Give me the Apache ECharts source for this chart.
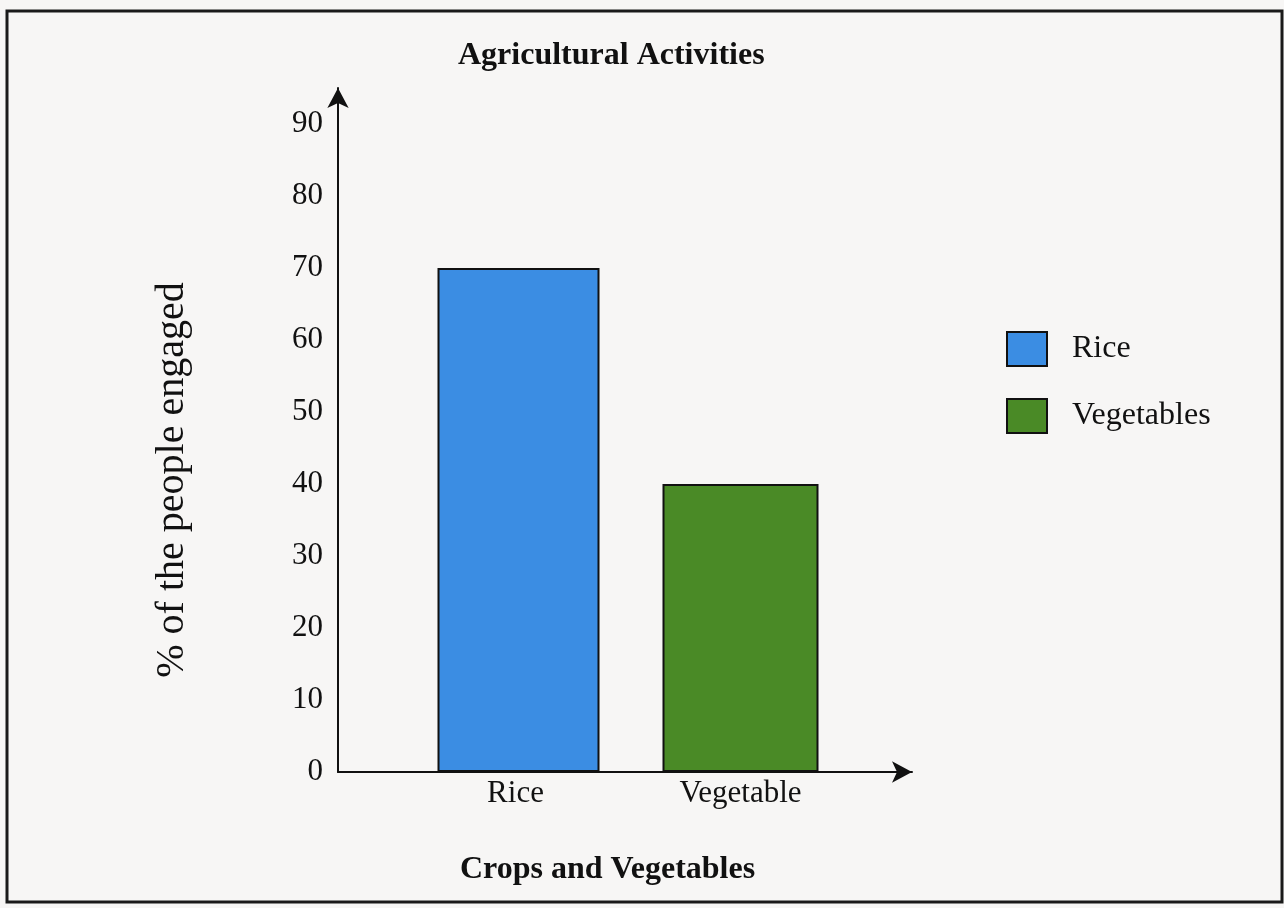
<!DOCTYPE html>
<html>
<head>
<meta charset="utf-8">
<script src="https://cdn.jsdelivr.net/npm/echarts@6/dist/echarts.min.js"></script>
<style>
  html, body { margin: 0; padding: 0; background: #f7f6f5; }
  #chart { width: 1284px; height: 908px; }
</style>
</head>
<body>
<div id="chart"></div>
<script>
// 数据
var categories = ['Rice', 'Vegetable'];
var riceValues = [70, '-'];
var vegetableValues = ['-', 40];
var seriesNames = ['Rice', 'Vegetables'];

var serif = 'Liberation Serif, Times New Roman, serif';

var myChart = echarts.init(document.getElementById('chart'));

var option = {
    backgroundColor: '#f7f6f5',
    title: [
        {
            text: 'Agricultural Activities',
            left: 453, top: 35,
            textStyle: { fontFamily: serif, fontWeight: 'bold', fontSize: 32, color: '#111' }
        },
        {
            text: 'Crops and Vegetables',
            left: 455, top: 849,
            textStyle: { fontFamily: serif, fontWeight: 'bold', fontSize: 32, color: '#111' }
        }
    ],
    legend: {
        orient: 'vertical',
        left: 1001, top: 326,
        itemWidth: 40, itemHeight: 34, itemGap: 31,
        icon: 'rect',
        data: seriesNames,
        textStyle: { fontFamily: serif, fontSize: 32, color: '#111', padding: [0, 0, 0, 20] }
    },
    // grid 0: 坐标轴线（带箭头），grid 1: 柱子
    grid: [
        { left: 338, right: 372, top: 88, bottom: 136 },
        { left: 403, right: 431, top: 88, bottom: 136 }
    ],
    xAxis: [
        {
            gridIndex: 0, type: 'value', min: 0, max: 1,
            axisLine: { show: true, symbol: ['none', 'arrow'], symbolSize: [16, 20], lineStyle: { color: '#111', width: 2 } },
            axisTick: { show: false }, axisLabel: { show: false }, splitLine: { show: false }
        },
        {
            gridIndex: 1, type: 'category', data: categories,
            axisLine: { show: false }, axisTick: { show: false }, splitLine: { show: false },
            axisLabel: { margin: 6, fontFamily: serif, fontSize: 31, color: '#111' }
        }
    ],
    yAxis: [
        {
            gridIndex: 0, type: 'value', min: 0, max: 95, interval: 10,
            axisLine: { show: true, symbol: ['none', 'arrow'], symbolSize: [16, 20], lineStyle: { color: '#111', width: 2 } },
            axisTick: { show: false }, splitLine: { show: false },
            axisLabel: { margin: 15, showMaxLabel: false, fontFamily: serif, fontSize: 31, color: '#111' }
        },
        {
            gridIndex: 1, type: 'value', min: 0, max: 95, interval: 10, show: false
        }
    ],
    graphic: [
        {
            type: 'rect',
            shape: { x: 7, y: 11, width: 1275, height: 891 },
            style: { fill: 'none', stroke: '#1a1a1a', lineWidth: 3 }
        },
        {
            type: 'text',
            x: 172, y: 480, rotation: Math.PI / 2,
            style: {
                text: '% of the people engaged',
                fontFamily: serif, fontSize: 40, fill: '#111',
                textAlign: 'center', textVerticalAlign: 'middle'
            }
        }
    ],
    series: [
        {
            name: seriesNames[0], type: 'bar',
            xAxisIndex: 1, yAxisIndex: 1,
            data: riceValues,
            barWidth: 162, barGap: '-100%',
            itemStyle: { color: '#3b8de3', borderColor: '#111', borderWidth: 2 }
        },
        {
            name: seriesNames[1], type: 'bar',
            xAxisIndex: 1, yAxisIndex: 1,
            data: vegetableValues,
            barWidth: 156, barGap: '-100%',
            itemStyle: { color: '#4a8a26', borderColor: '#111', borderWidth: 2 }
        }
    ]
};

myChart.setOption(option);
</script>
</body>
</html>
